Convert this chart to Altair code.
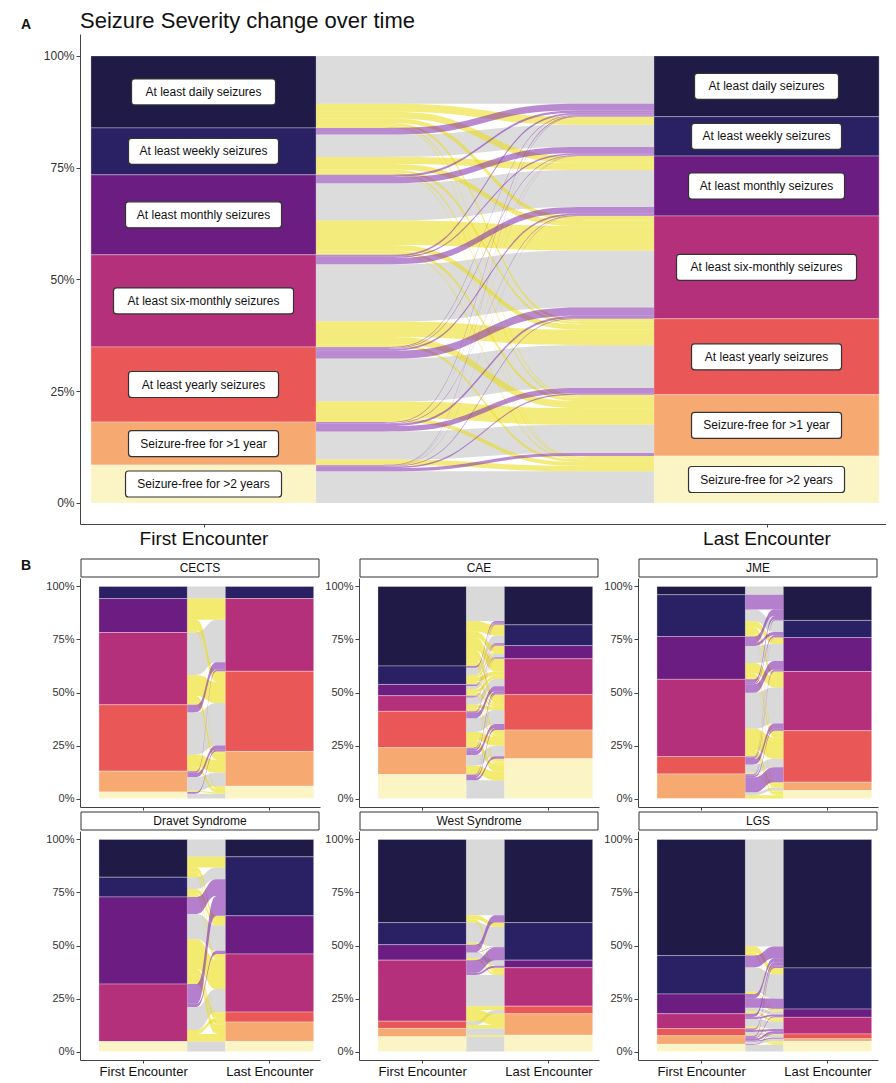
import altair as alt
import pandas as pd

# ---------------- data ----------------
chart_title = "Seizure Severity change over time"
categories = [
    "At least daily seizures",
    "At least weekly seizures",
    "At least monthly seizures",
    "At least six-monthly seizures",
    "At least yearly seizures",
    "Seizure-free for >1 year",
    "Seizure-free for >2 years",
]
stratum_colors = ["#1f1a46", "#2a2164", "#6c1d81", "#b5307a", "#ea5757", "#f7a972", "#fbf4c4"]
time_points = ["First Encounter", "Last Encounter"]
change_kinds = ["same", "better", "worse"]
change_colors = ["#bfbfbf", "#eadd10", "#8229ab"]
panel_names = ["CECTS", "CAE", "JME", "Dravet Syndrome", "West Syndrome", "LGS"]

# rows = first encounter category, columns = last encounter category (percent of patients)
overall_flows = [
    [10.7, 1.8, 1.5, 1.0, 0.6, 0.3, 0.2],
    [1.5, 5.0, 1.6, 1.2, 0.6, 0.4, 0.2],
    [0.5, 1.4, 8.3, 5.5, 1.2, 0.7, 0.3],
    [0.4, 0.3, 1.4, 12.8, 3.5, 1.6, 0.6],
    [0.2, 0.2, 0.4, 1.8, 9.6, 3.7, 0.9],
    [0.2, 0.05, 0.15, 0.5, 1.2, 6.3, 1.2],
    [0.1, 0.05, 0.05, 0.2, 0.3, 0.7, 7.1],
]
cects_flows = [
    [0, 0, 0, 0, 0, 0, 0],
    [0, 5.7, 0, 0, 0, 0, 0],
    [0, 0, 0, 10.0, 5.0, 1.0, 0],
    [0, 0, 0, 20.0, 10.0, 3.0, 1.1],
    [0, 0, 0, 3.5, 20.0, 6.0, 1.8],
    [0, 0, 0, 0.8, 2.0, 6.4, 0.6],
    [0, 0, 0, 0, 0.8, 0, 2.3],
]
cae_flows = [
    [16.3, 5.0, 3.0, 6.0, 4.0, 2.0, 1.2],
    [0.8, 3.5, 1.0, 2.0, 0.8, 0.3, 0.3],
    [0.3, 0.4, 1.5, 1.5, 1.0, 0.3, 0.3],
    [0.2, 0.3, 0.3, 3.5, 1.5, 0.8, 0.8],
    [0.2, 0.4, 0.2, 2.4, 6.5, 4.0, 3.4],
    [0.2, 0.2, 0.1, 1.0, 2.0, 5.0, 4.2],
    [0.1, 0, 0.1, 0.5, 0.9, 1.1, 8.6],
]
jme_flows = [
    [3.9, 0, 0, 0, 0, 0, 0],
    [7.0, 5.5, 3.0, 2.5, 1.2, 0.3, 0.2],
    [3.0, 1.5, 8.0, 5.0, 2.0, 0.4, 0.3],
    [1.5, 0.8, 4.0, 17.0, 10.0, 1.6, 1.5],
    [0.4, 0.2, 0.6, 2.5, 4.0, 0.3, 0.2],
    [0.2, 0.1, 0.4, 0.9, 7.1, 1.3, 1.6],
    [0, 0, 0, 0, 0, 0, 0],
]
dravet_flows = [
    [8.2, 5.0, 2.5, 1.5, 0, 0.6, 0],
    [0, 5.5, 2.0, 1.0, 0.3, 0.5, 0],
    [0, 8.0, 12.0, 14.0, 2.6, 4.5, 0],
    [0, 9.3, 1.5, 10.9, 1.8, 3.6, 0],
    [0, 0, 0, 0, 0, 0, 0],
    [0, 0, 0, 0, 0, 0, 0],
    [0, 0, 0, 0, 0, 0, 4.7],
]
west_flows = [
    [35.7, 2.0, 0, 1.5, 0, 0, 0],
    [0, 9.5, 0, 0.9, 0, 0, 0],
    [3.5, 0.2, 2.6, 1.0, 0, 0, 0],
    [0, 6.0, 1.0, 14.7, 1.8, 5.3, 0],
    [0, 0, 0, 0, 1.8, 1.6, 0],
    [0, 0, 0, 0, 0, 3.2, 0.7],
    [0, 0, 0, 0, 0, 0, 7.0],
]
lgs_flows = [
    [50.4, 3.0, 0.5, 0.5, 0, 0, 0.3],
    [5.5, 11.5, 0.6, 0.5, 0, 0, 0],
    [2.0, 4.5, 1.5, 1.0, 0, 0, 0.3],
    [1.5, 0.2, 0.8, 3.5, 0.5, 0, 0.5],
    [0.6, 0, 0, 1.0, 1.3, 0, 0.5],
    [0.5, 0.2, 0.5, 1.0, 0.5, 1.2, 0.1],
    [0, 0, 0, 0.3, 0, 0, 3.1],
]
panel_flows = [cects_flows, cae_flows, jme_flows, dravet_flows, west_flows, lgs_flows]

# ---------------- layout helpers ----------------
FRACS = [0.0, 0.2, 0.4, 0.6, 0.8, 1.0]
FONT = "Liberation Sans"


def build(matrix, hw, box_px_per_unit=None, box_half_h=None):
    n = len(categories)
    total = float(sum(sum(r) for r in matrix))
    rows = [sum(matrix[i]) / total for i in range(n)]
    cols = [sum(matrix[i][j] for i in range(n)) / total for j in range(n)]
    strata = []
    ltop, rtop = [], []
    for side, sizes, tops in ((1.0, rows, ltop), (2.0, cols, rtop)):
        t = 1.0
        for i in range(n):
            tops.append(t)
            if sizes[i] > 0:
                rec = dict(xa=side - hw, xb=side + hw, ya=t, yb=t - sizes[i],
                           cat=categories[i], xc=side, yc=t - sizes[i] / 2)
                if box_px_per_unit:
                    half_w = (len(categories[i]) * 6.0 + 6) / 2 / box_px_per_unit
                    rec.update(bx0=side - half_w, bx1=side + half_w,
                               by0=rec["yc"] - box_half_h, by1=rec["yc"] + box_half_h)
                strata.append(rec)
            t -= sizes[i]
    a, b = {}, {}
    cur = list(ltop)
    for i in range(n):
        for j in range(n):
            v = matrix[i][j] / total
            if v > 0:
                a[(i, j)] = cur[i]
                cur[i] -= v
    cur = list(rtop)
    for j in range(n):
        for i in range(n):
            v = matrix[i][j] / total
            if v > 0:
                b[(i, j)] = cur[j]
                cur[j] -= v
    x0, x1 = 1 + hw, 2 - hw
    recs = []
    for kind_order in change_kinds:
        for (i, j), ya in a.items():
            kind = "same" if i == j else ("better" if j > i else "worse")
            if kind != kind_order:
                continue
            v = matrix[i][j] / total
            yb = b[(i, j)]
            for k, f in enumerate(FRACS):
                yt = ya if f < 0.5 else yb
                recs.append(dict(fid=f"f{i}{j}", kind=kind,
                                 px=x0 + f * (x1 - x0), ytop=yt, ybot=yt - v))
    return pd.DataFrame(strata), pd.DataFrame(recs)


label_expr = f"datum.value == 1 ? '{time_points[0]}' : '{time_points[1]}'"
pct_values = [0, 0.25, 0.5, 0.75, 1.0]


def alluvial(matrix, hw, width, height, xdom, ydom, x_labels, x_label_size,
             y_label_size, boxes=False, strip=None, letter=None, letter_y=-10,
             title=None, opacity=0.55):
    pxu = width / (xdom[1] - xdom[0])
    pyu = height / (ydom[1] - ydom[0])
    sdf, fdf = build(matrix, hw, pxu if boxes else None, 13.0 / pyu if boxes else None)
    xs = alt.Scale(domain=xdom, nice=False, zero=False)
    ys = alt.Scale(domain=ydom, nice=False, zero=False)
    if x_labels:
        xaxis = alt.Axis(values=[1, 2], labelExpr=label_expr, title=None,
                         labelFontSize=x_label_size, labelColor="#111", tickSize=3,
                         labelPadding=2)
    else:
        xaxis = alt.Axis(values=[1, 2], labels=False, title=None, tickSize=3)
    yaxis = alt.Axis(values=pct_values, format=".0%", title=None,
                     labelFontSize=y_label_size, tickSize=4, labelPadding=2)
    layers = []
    rects = alt.Chart(sdf).mark_rect(stroke="white", strokeWidth=0.7, strokeOpacity=0.45).encode(
        x=alt.X("xa:Q", scale=xs, axis=xaxis), x2="xb:Q",
        y=alt.Y("ya:Q", scale=ys, axis=yaxis), y2="yb:Q",
        color=alt.Color("cat:N", scale=alt.Scale(domain=categories, range=stratum_colors), legend=None),
    )
    layers.append(rects)
    flows = alt.Chart(fdf).mark_area(interpolate="basis", opacity=opacity).encode(
        x=alt.X("px:Q", scale=xs, axis=xaxis),
        y=alt.Y("ytop:Q", scale=ys, axis=yaxis, stack=None),
        y2="ybot:Q",
        detail="fid:N",
        fill=alt.Fill("kind:N", scale=alt.Scale(domain=change_kinds, range=change_colors), legend=None),
    )
    layers.append(flows)
    if boxes:
        layers.append(alt.Chart(sdf).mark_rect(fill="white", stroke="#333", strokeWidth=1.2,
                                               cornerRadius=3).encode(
            x=alt.X("bx0:Q", scale=xs, axis=xaxis), x2="bx1:Q",
            y=alt.Y("by0:Q", scale=ys, axis=yaxis), y2="by1:Q"))
        layers.append(alt.Chart(sdf).mark_text(font=FONT, fontSize=12, color="#111").encode(
            x=alt.X("xc:Q", scale=xs, axis=xaxis), y=alt.Y("yc:Q", scale=ys, axis=yaxis),
            text="cat:N"))
    if strip is not None:
        sd = pd.DataFrame({"name": [strip]})
        layers.append(alt.Chart(sd).mark_rect(fill="white", stroke="#333", strokeWidth=1).encode(
            x=alt.value(1), x2=alt.value(width - 1), y=alt.value(-19), y2=alt.value(-1)))
        layers.append(alt.Chart(sd).mark_text(font=FONT, fontSize=12, color="#111").encode(
            x=alt.value(width / 2), y=alt.value(-10), text="name:N"))
    if title is not None:
        td = pd.DataFrame({"t": [title]})
        layers.append(alt.Chart(td).mark_text(font=FONT, fontSize=22, align="left",
                                              baseline="alphabetic", color="#111").encode(
            x=alt.value(0), y=alt.value(-6), text="t:N"))
    if letter is not None:
        ld = pd.DataFrame({"t": [letter]})
        layers.append(alt.Chart(ld).mark_text(font=FONT, fontSize=14, fontWeight="bold",
                                              align="left", baseline="alphabetic", color="#111").encode(
            x=alt.value(-59), y=alt.value(letter_y), text="t:N"))
    return alt.layer(*layers).properties(width=width, height=height)


panel_a = alluvial(overall_flows, 0.2, 806, 490, [0.7806, 2.2122], [-0.047, 1.049],
                   True, 19, 12, boxes=True, letter="A", letter_y=-5,
                   title=chart_title, opacity=0.55)

small = []
for idx, (name, mat) in enumerate(zip(panel_names, panel_flows)):
    small.append(alluvial(mat, 0.35, 240, 229, [0.5, 2.4], [-0.04, 1.04],
                          idx >= 3, 13, 11, strip=name,
                          letter="B" if idx == 0 else None, letter_y=-8, opacity=0.6))

row1 = alt.hconcat(*small[:3], spacing=4)
row2 = alt.hconcat(*small[3:], spacing=4)

chart = alt.vconcat(panel_a, alt.vconcat(row1, row2, spacing=0), spacing=10).properties(
    padding={"left": 13, "top": 2, "right": 0, "bottom": 0}
).configure_view(stroke=None).configure_axis(
    grid=False, domainColor="#444", tickColor="#444", labelColor="#333", labelFont=FONT
)

chart.save("out.html", embed_options={"renderer": "svg", "actions": False})
